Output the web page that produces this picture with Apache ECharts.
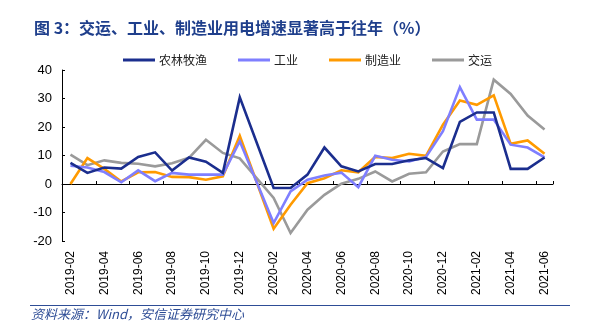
<!DOCTYPE html>
<html>
<head>
<meta charset="utf-8">
<style>
  html, body { margin: 0; padding: 0; background: #fff; }
  #chart { width: 590px; height: 331px; }
</style>
<script src="https://cdn.jsdelivr.net/npm/echarts@6/dist/echarts.min.js"></script>
</head>
<body>
<div id="chart"></div>
<script>
// Monthly categories (2020-01 / 2021-01 follow the Jan–Feb reporting)
const months = [
  '2019-02','2019-03','2019-04','2019-05','2019-06','2019-07','2019-08','2019-09',
  '2019-10','2019-11','2019-12','2020-01','2020-02','2020-03','2020-04','2020-05',
  '2020-06','2020-07','2020-08','2020-09','2020-10','2020-11','2020-12','2021-01',
  '2021-02','2021-03','2021-04','2021-05','2021-06'
];

// Electricity consumption growth, % y/y
const agriculture = [7.4, 3.9, 5.8, 5.4, 9.5, 11.1, 4.7, 9.3, 7.8, 3.9, 30.4, null, -1.4, -1.4, 3.3, 12.8, 6.2, 4.4, 7.0, 7.0, 8.3, 9.1, 5.6, 21.8, 25.1, 25.1, 5.3, 5.3, 9.3];
const industry    = [6.4, 5.8, 4.2, 0.6, 4.8, 1.0, 3.9, 3.3, 3.3, 3.3, 15.0, null, -13.7, -2.6, 1.5, 3.0, 4.0, -1.1, 9.9, 8.5, 7.9, 9.5, 18.5, 34.0, 22.6, 22.6, 13.8, 12.8, 9.3];
const manufacturing = [0.0, 9.1, 5.3, 0.9, 4.1, 4.2, 2.5, 2.4, 1.5, 2.7, 16.9, null, -15.7, -7.3, 0.3, 2.0, 4.8, 4.1, 9.5, 9.1, 10.6, 9.9, 20.8, 29.3, 27.8, 31.1, 14.1, 15.3, 10.6];
const transport   = [10.3, 6.6, 8.3, 7.4, 7.1, 6.2, 7.3, 9.2, 15.5, 10.9, 9.0, null, -4.9, -17.2, -9.0, -3.8, 0.1, 1.8, 4.4, 0.9, 3.6, 4.1, 11.4, 14.0, 14.0, 36.6, 31.6, 24.0, 19.1];

const seriesNames = ['农林牧渔', '工业', '制造业', '交运'];
const seriesData = [agriculture, industry, manufacturing, transport];
const seriesColors = ['#1B2E8E', '#7F7FFF', '#FF9A00', '#9A9A9A'];

const yTicks = { min: -20, max: 40, step: 10 };

const titleText = '图 3：交运、工业、制造业用电增速显著高于往年（%）';
const sourceText = '资料来源：Wind，安信证券研究中心';

const chart = echarts.init(document.getElementById('chart'), null, { renderer: 'canvas' });

const axisFont = 'Liberation Sans, Arial, sans-serif';
const cjkFont = 'Noto Sans CJK SC, sans-serif';

chart.setOption({
  backgroundColor: '#fff',
  animation: false,
  title: {
    text: titleText,
    left: 29,
    top: 15,
    textStyle: { fontFamily: cjkFont, fontSize: 16, fontWeight: 'bold', color: '#1F3F8C' }
  },
  legend: {
    data: seriesNames,
    left: 118,
    top: 49,
    icon: 'rect',
    itemWidth: 32,
    itemHeight: 3,
    itemGap: 31,
    textStyle: { fontFamily: cjkFont, fontSize: 12, color: '#222', padding: [0, 0, 0, -1] }
  },
  grid: { left: 62, right: 37, top: 70, bottom: 90, containLabel: false },
  xAxis: [
    {
      type: 'category',
      data: months,
      position: 'bottom',
      boundaryGap: true,
      axisLine: { show: false, onZero: false },
      axisTick: { show: false },
      axisLabel: {
        interval: 1, rotate: 90, margin: 10,
        fontFamily: axisFont, fontSize: 12, color: '#000'
      },
      splitLine: { show: false }
    },
    {
      type: 'category',
      data: months,
      position: 'bottom',
      boundaryGap: true,
      axisLine: { show: true, onZero: true, lineStyle: { color: '#000', width: 1 } },
      axisTick: { show: true, inside: true, length: 3, interval: 1, lineStyle: { color: '#000' } },
      axisLabel: { show: false },
      splitLine: { show: false }
    }
  ],
  yAxis: {
    type: 'value',
    min: yTicks.min,
    max: yTicks.max,
    interval: yTicks.step,
    axisLine: { show: true, lineStyle: { color: '#000', width: 1 } },
    axisTick: { show: true, inside: true, length: 3, lineStyle: { color: '#000' } },
    axisLabel: { margin: 10, fontFamily: axisFont, fontSize: 13, color: '#000' },
    splitLine: { show: false }
  },
  series: seriesNames.map((name, i) => ({
    name: name,
    type: 'line',
    xAxisIndex: 0,
    data: seriesData[i],
    connectNulls: true,
    symbol: 'none',
    color: seriesColors[i],
    lineStyle: { width: 2.6, color: seriesColors[i], join: 'miter' },
    z: 10 - i
  })),
  graphic: [
    {
      type: 'rect',
      shape: { x: 30, y: 305, width: 540, height: 1 },
      style: { fill: '#2E4D96' },
      silent: true
    },
    {
      type: 'text',
      left: 31,
      top: 308,
      style: {
        text: sourceText,
        font: 'italic 13px ' + cjkFont,
        fill: '#2E4D96'
      },
      silent: true
    }
  ]
});
</script>
</body>
</html>
